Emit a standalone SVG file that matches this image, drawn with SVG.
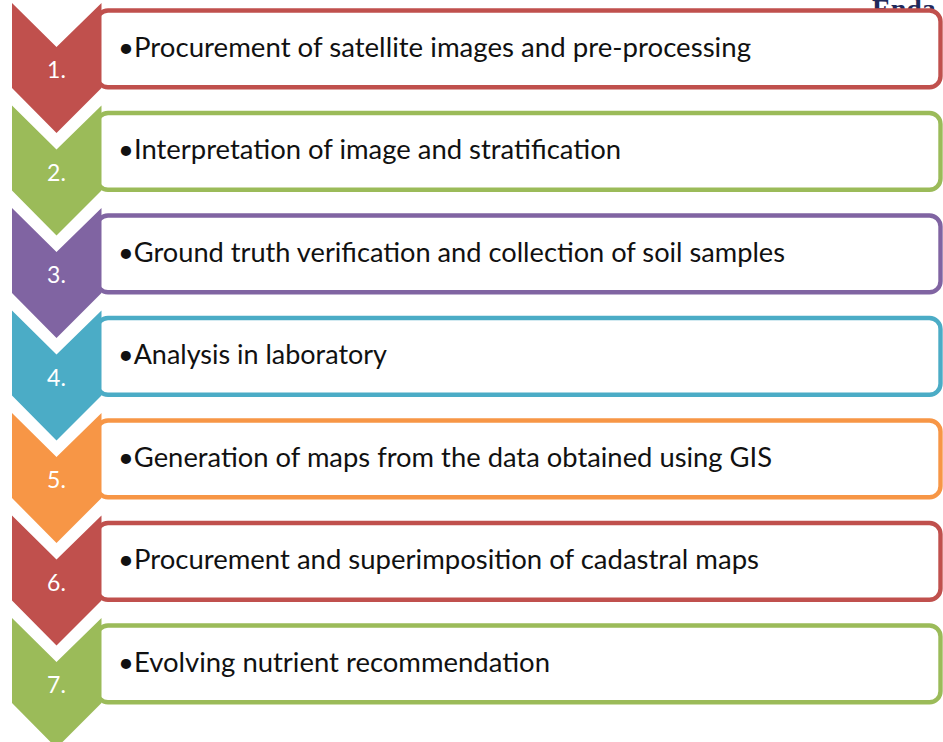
<svg xmlns="http://www.w3.org/2000/svg" width="943" height="742" viewBox="0 0 943 742">
<style>
.box{fill:#fff;stroke-width:4.4}
.num{font-family:Lato,"Open Sans",sans-serif;font-size:23px;fill:#fff;text-anchor:middle}
.lbl{font-family:Lato,"Open Sans",sans-serif;font-size:27px;fill:#111}
.red{stroke:#C0504D}.grn{stroke:#9BBB59}.pur{stroke:#8064A2}.blu{stroke:#4BACC6}.org{stroke:#F79646}
</style>
<rect width="943" height="742" fill="#fff"/>
<text x="872" y="18" font-family="'Liberation Serif',serif" font-weight="bold" font-size="28" fill="#1F2A5C">Enda</text>
<g id="boxes">
<rect class="box red" x="97" y="10.5" width="843.5" height="76.7" rx="11"/>
<rect class="box grn" x="97" y="113" width="843.5" height="76.7" rx="11"/>
<rect class="box pur" x="97" y="215.5" width="843.5" height="76.7" rx="11"/>
<rect class="box blu" x="97" y="318" width="843.5" height="76.7" rx="11"/>
<rect class="box org" x="97" y="420.5" width="843.5" height="76.7" rx="11"/>
<rect class="box red" x="97" y="523" width="843.5" height="76.7" rx="11"/>
<rect class="box grn" x="97" y="625.5" width="843.5" height="76.7" rx="11"/>
</g>
<g id="step1">
<polygon fill="#C0504D" points="12,3 56.5,47 101.5,3 101.5,88 56.5,133 12,88"/>
<text class="num" x="56.5" y="78">1.</text>
<text class="lbl" x="118" y="56.7" textLength="633" lengthAdjust="spacingAndGlyphs">•Procurement of satellite images and pre-processing</text>
</g>
<g id="step2">
<polygon fill="#9BBB59" points="12,105.5 56.5,149.5 101.5,105.5 101.5,190.5 56.5,235.5 12,190.5"/>
<text class="num" x="56.5" y="180.5">2.</text>
<text class="lbl" x="118" y="159.2" textLength="503" lengthAdjust="spacingAndGlyphs">•Interpretation of image and stratification</text>
</g>
<g id="step3">
<polygon fill="#8064A2" points="12,208 56.5,252 101.5,208 101.5,293 56.5,338 12,293"/>
<text class="num" x="56.5" y="283">3.</text>
<text class="lbl" x="118" y="261.7" textLength="667" lengthAdjust="spacingAndGlyphs">•Ground truth verification and collection of soil samples</text>
</g>
<g id="step4">
<polygon fill="#4BACC6" points="12,310.5 56.5,354.5 101.5,310.5 101.5,395.5 56.5,440.5 12,395.5"/>
<text class="num" x="56.5" y="385.5">4.</text>
<text class="lbl" x="118" y="364.2" textLength="269" lengthAdjust="spacingAndGlyphs">•Analysis in laboratory</text>
</g>
<g id="step5">
<polygon fill="#F79646" points="12,413 56.5,457 101.5,413 101.5,498 56.5,543 12,498"/>
<text class="num" x="56.5" y="488">5.</text>
<text class="lbl" x="118" y="466.7" textLength="654" lengthAdjust="spacingAndGlyphs">•Generation of maps from the data obtained using GIS</text>
</g>
<g id="step6">
<polygon fill="#C0504D" points="12,515.5 56.5,559.5 101.5,515.5 101.5,600.5 56.5,645.5 12,600.5"/>
<text class="num" x="56.5" y="590.5">6.</text>
<text class="lbl" x="118" y="569.2" textLength="641" lengthAdjust="spacingAndGlyphs">•Procurement and superimposition of cadastral maps</text>
</g>
<g id="step7">
<polygon fill="#9BBB59" points="12,618 56.5,662 101.5,618 101.5,703 56.5,748 12,703"/>
<text class="num" x="56.5" y="693">7.</text>
<text class="lbl" x="118" y="671.7" textLength="432" lengthAdjust="spacingAndGlyphs">•Evolving nutrient recommendation</text>
</g>
<g id="connectors"/>
</svg>
